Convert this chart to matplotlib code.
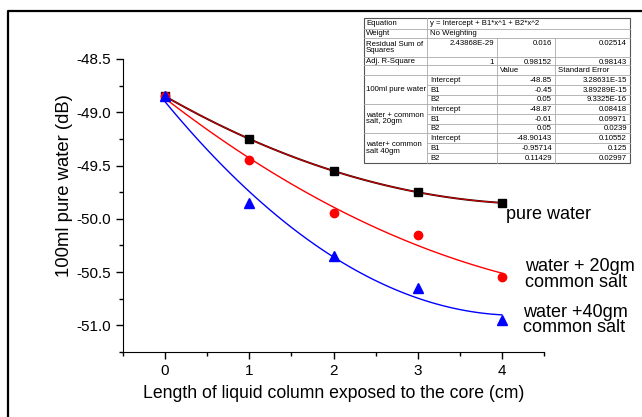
import numpy as np
import matplotlib
matplotlib.use('Agg')
import matplotlib.pyplot as plt

plt.rcParams['font.family'] = ['Liberation Sans', 'DejaVu Sans']

# data
length_cm = [0, 1, 2, 3, 4]
pure_water = [-48.85, -49.25, -49.55, -49.75, -49.85]
salt_20gm = [-48.85, -49.45, -49.95, -50.15, -50.55]
salt_40gm = [-48.85, -49.85, -50.35, -50.65, -50.95]

# fit table text
table_rows = [
    ['Equation', 'y = Intercept + B1*x^1 + B2*x^2'],
    ['Weight', 'No Weighting'],
    ['Residual Sum of\nSquares', '2.43868E-29', '0.016', '0.02514'],
    ['Adj. R-Square', '1', '0.98152', '0.98143'],
]
groups = ['100ml pure water', 'water + common\nsalt, 20gm', 'water+ common\nsalt 40gm']
params = ['Intercept', 'B1', 'B2']
values = [['-48.85', '-0.45', '0.05'],
          ['-48.87', '-0.61', '0.05'],
          ['-48.90143', '-0.95714', '0.11429']]
errors = [['3.28631E-15', '3.89289E-15', '9.3325E-16'],
          ['0.08418', '0.09971', '0.0239'],
          ['0.10552', '0.125', '0.02997']]

W, H = 642, 417
fig = plt.figure(figsize=(W / 100, H / 100), dpi=100)
ax = fig.add_axes([123 / W, 1 - 352 / H, (544 - 123) / W, (352 - 59) / H])

xs = np.linspace(0, 4, 100)
series = [
    (pure_water, 's', 'black', '#3a0000'),
    (salt_20gm, 'o', 'red', 'red'),
    (salt_40gm, '^', 'blue', 'blue'),
]
for ys, mk, mc, lc in series:
    coef = np.polyfit(length_cm, ys, 2)
    ax.plot(xs, np.polyval(coef, xs), color=lc, lw=1.4 if mk == 's' else 1.0, zorder=2)
    if mk == 's':
        ax.plot(xs, np.polyval(coef, xs), color='red', lw=0.5, zorder=2)
    ax.plot(length_cm, ys, mk, color=mc, ms=6 if mk != '^' else 7, zorder=3, linestyle='none')

ax.text(4.05, -49.96, 'pure water', fontsize=13, va='center', ha='left')
ax.text(4.27, -50.52, 'water + 20gm\ncommon salt', fontsize=13, va='center', ha='left',
        linespacing=0.95)
ax.text(4.25, -50.95, 'water +40gm\ncommon salt', fontsize=13, va='center', ha='left',
        linespacing=0.9)

ax.set_xlim(-0.5, 4.5)
ax.set_ylim(-51.25, -48.5)
ax.set_xticks([0, 1, 2, 3, 4])
ax.set_xticks([-0.5, 0.5, 1.5, 2.5, 3.5, 4.5], minor=True)
ax.set_yticks([-48.5, -49.0, -49.5, -50.0, -50.5, -51.0])
ax.set_yticklabels(['-48.5', '-49.0', '-49.5', '-50.0', '-50.5', '-51.0'])
ax.set_yticks(np.arange(-51.25, -48.4, 0.25), minor=True)
ax.tick_params(axis='both', which='major', direction='out', length=5, width=1, labelsize=11)
ax.tick_params(axis='both', which='minor', direction='out', length=3, width=1)
ax.spines['top'].set_visible(False)
ax.spines['right'].set_visible(False)
ax.set_xlabel('Length of liquid column exposed to the core (cm)', fontsize=12.7, labelpad=5)
ax.set_ylabel('100ml pure water (dB)', fontsize=13.3)
ax.yaxis.set_label_coords(-0.118, 0.567)

# overlay in pixel coordinates for frame and fit table
ov = fig.add_axes([0, 0, 1, 1], zorder=5)
ov.set_xlim(0, W)
ov.set_ylim(H, 0)
ov.axis('off')
ov.patch.set_alpha(0)

# figure frame (only top/left visible)
ov.plot([8, 8, W + 5], [H + 5, 11, 11], color='black', lw=1.6, solid_capstyle='butt')

cx = [364, 427, 497, 555, 630]
ry = [18, 29, 38, 57, 65, 75, 85, 95, 104, 114, 124, 133, 143, 153, 163]
fs = 5.6
ov.add_patch(plt.Rectangle((cx[0], ry[0]), cx[-1] - cx[0], ry[-1] - ry[0],
                           facecolor='white', edgecolor='#555555', lw=0.8))
gline = dict(color='#aaaaaa', lw=0.6)
# horizontal lines
for i, y in enumerate(ry[1:-1], start=1):
    if i in (6, 7, 9, 10, 12, 13):
        ov.plot([cx[1], cx[-1]], [y, y], **gline)
    else:
        ov.plot([cx[0], cx[-1]], [y, y], **gline)
# vertical lines
ov.plot([cx[1], cx[1]], [ry[0], ry[-1]], **gline)
for c in (cx[2], cx[3]):
    ov.plot([c, c], [ry[2], ry[-1]], **gline)

for i, row in enumerate(table_rows):
    ymid = (ry[i] + ry[i + 1]) / 2
    ov.text(cx[0] + 2, ymid, row[0], fontsize=fs, va='center', ha='left', linespacing=0.95)
    if len(row) == 2:
        ov.text(cx[1] + 3, ymid, row[1], fontsize=fs, va='center', ha='left')
    else:
        ytop = ry[i] + 1.5
        for j in range(3):
            ov.text(cx[j + 2] - 3, ytop, row[j + 1], fontsize=fs, va='top', ha='right')

ymid = (ry[4] + ry[5]) / 2
ov.text(cx[2] + 3, ymid, 'Value', fontsize=fs, va='center', ha='left')
ov.text(cx[3] + 3, ymid, 'Standard Error', fontsize=fs, va='center', ha='left')

for g in range(3):
    top = 5 + 3 * g
    ov.text(cx[0] + 2, (ry[top] + ry[top + 3]) / 2, groups[g], fontsize=fs,
            va='center', ha='left', linespacing=0.95)
    for k in range(3):
        ymid = (ry[top + k] + ry[top + k + 1]) / 2
        ov.text(cx[1] + 3, ymid, params[k], fontsize=fs, va='center', ha='left')
        ov.text(cx[3] - 3, ymid, values[g][k], fontsize=fs, va='center', ha='right')
        ov.text(cx[4] - 3, ymid, errors[g][k], fontsize=fs, va='center', ha='right')

fig.savefig('out.png', dpi=100)
